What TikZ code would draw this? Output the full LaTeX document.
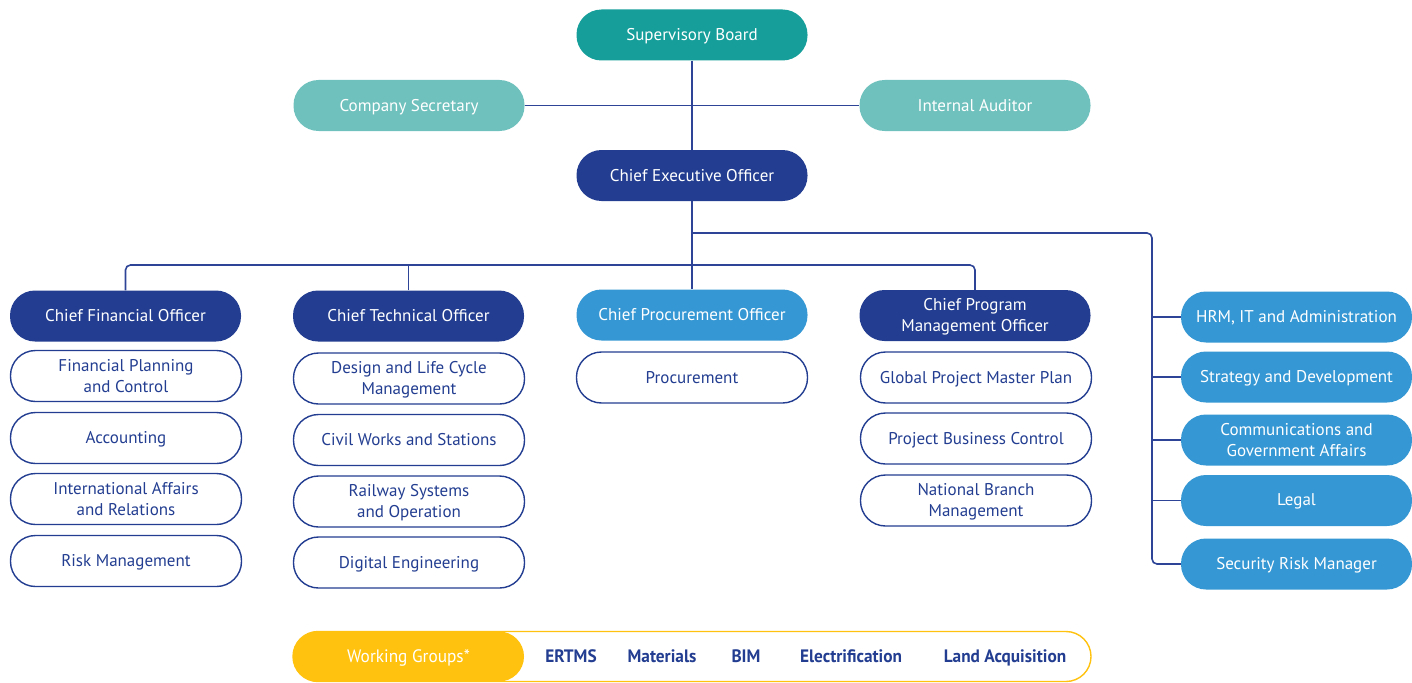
\documentclass[tikz,border=0pt]{standalone}
\usepackage{fontspec}
\setmainfont{PT Sans}
\newfontfamily\condfont[FakeStretch=0.96]{PT Sans}
\definecolor{dblue}{HTML}{233E91}
\definecolor{mblue}{HTML}{3597D3}
\definecolor{teal}{HTML}{159E9A}
\definecolor{lteal}{HTML}{6FC1BD}
\definecolor{lineblue}{HTML}{2E4597}
\definecolor{wgyellow}{HTML}{FFC20E}
\begin{document}
\begin{tikzpicture}[x=1pt,y=-1pt,
  pill/.style={rectangle, rounded corners=25pt, minimum width=231pt, minimum height=51pt,
    align=center, inner sep=0pt, text depth=1pt, font=\fontsize{17}{21}\selectfont},
  head/.style={pill, fill=dblue, text=white},
  side/.style={pill, fill=mblue, text=white},
  sub/.style={pill, draw=dblue, line width=1.4pt, fill=white, text=dblue},
  conn/.style={draw=lineblue, line width=1.6pt, rounded corners=5pt},
  wgitem/.style={text=dblue, font=\condfont\bfseries\fontsize{18}{21}\selectfont, inner sep=0pt, text depth=1pt}
]
\useasboundingbox (0,0) rectangle (1412,682);

% top
\node[pill, fill=teal, text=white] (sb) at (692,35) {Supervisory Board};
\node[pill, fill=lteal, text=white] (cs) at (409,105.5) {Company Secretary};
\node[pill, fill=lteal, text=white] (ia) at (975,105.5) {Internal Auditor};
\node[head] (ceo) at (692,175.5) {Chief Executive Officer};

% chiefs
\node[head] (cfo) at (125.5,316) {Chief Financial Officer};
\node[head] (cto) at (408.5,316) {Chief Technical Officer};
\node[side] (cpo) at (692,315) {Chief Procurement Officer};
\node[head] (cpmo) at (975,315.5) {Chief Program\\Management Officer};

% CFO subs
\node[sub] (fpc) at (126,376) {Financial Planning\\and Control};
\node[sub] (acc) at (126,438) {Accounting};
\node[sub] (iar) at (126,499) {International Affairs\\and Relations};
\node[sub] (rm) at (126,561) {Risk Management};

% CTO subs
\node[sub] (dlc) at (409,378.5) {Design and Life Cycle\\Management};
\node[sub] (cws) at (409,440) {Civil Works and Stations};
\node[sub] (rso) at (409,501.5) {Railway Systems\\and Operation};
\node[sub] (de) at (409,562.5) {Digital Engineering};

% CPO subs
\node[sub] (proc) at (692,377.5) {Procurement};

% CPMO subs
\node[sub] (gpm) at (976,377.5) {Global Project Master Plan};
\node[sub] (pbc) at (976,438.5) {Project Business Control};
\node[sub] (nbm) at (976,500.5) {National Branch\\Management};

% right column
\node[side] (hrm) at (1296.5,317) {HRM, IT and Administration};
\node[side] (sd) at (1296.5,377) {Strategy and Development};
\node[side] (cga) at (1296.5,440) {Communications and\\Government Affairs};
\node[side] (leg) at (1296.5,500.5) {Legal};
\node[side] (srm) at (1296.5,564) {Security Risk Manager};

% connectors
\coordinate (bus) at (692,265);
\coordinate (rx) at (1152,233);
\draw[conn] (sb.south) -- (ceo.north);
\draw[conn] (cs.east) -- (ia.west);
\draw[conn] (ceo.south) -- (cpo.north);
\draw[conn] (cfo.north) |- (bus) -| (cpmo.north);
\draw[conn] (cto.north) -- (cto.north |- bus);
\draw[conn] (ceo.south |- rx) -- (rx) |- (srm.west);
\draw[conn] (hrm.west -| rx) -- (hrm.west);
\draw[conn] (sd.west -| rx) -- (sd.west);
\draw[conn] (cga.west -| rx) -- (cga.west);
\draw[conn] (leg.west -| rx) -- (leg.west);

% working groups
\node[pill, draw=wgyellow, line width=1.4pt, fill=white, minimum width=798pt, minimum height=50pt] (wg) at (692,656.5) {};
\node[pill, fill=wgyellow, minimum height=50pt, text=white, font=\condfont\fontsize{18}{21}\selectfont] (wgl) at (408.5,656.5) {Working Groups*};
\node[wgitem] (w1) at (571,657) {ERTMS};
\node[wgitem] (w2) at (662,657) {Materials};
\node[wgitem] (w3) at (746,657) {BIM};
\node[wgitem] (w4) at (851,657) {Electrification};
\node[wgitem] (w5) at (1005,657) {Land Acquisition};
\end{tikzpicture}
\end{document}
